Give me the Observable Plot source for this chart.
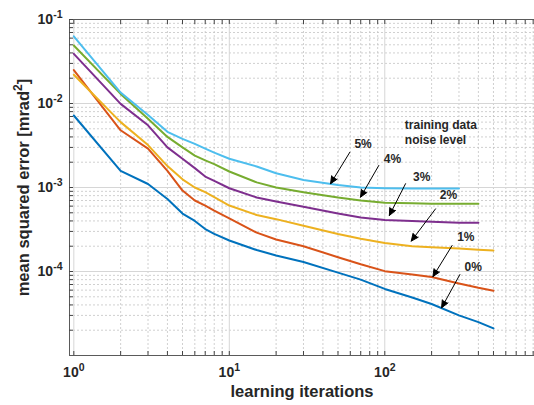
<!DOCTYPE html>
<html>
<head>
<meta charset="utf-8">
<script src="https://cdn.jsdelivr.net/npm/d3@7"></script>
<script src="https://cdn.jsdelivr.net/npm/@observablehq/plot@0.6"></script>
<style>
  html, body { margin: 0; padding: 0; background: #fff; }
  #chart { width: 534px; height: 405px; overflow: hidden; }
</style>
</head>
<body>
<div id="chart"></div>
<script>
// ---- data ----
const iterations = [1, 2, 3, 4, 5, 6, 7, 8, 10, 15, 20, 30, 50, 70, 100, 150, 200, 300, 400, 500];
const noiseLevels = ["0%", "1%", "2%", "3%", "4%", "5%"];
const seriesColors = ["#0072BD", "#D95319", "#EDB120", "#7E2F8E", "#77AC30", "#4DBEEE"];

const mse0 = [0.0072, 0.00158, 0.0011, 0.00073, 0.00049, 0.0004, 0.00032, 0.00028, 0.000234, 0.00018, 0.000155, 0.00013, 0.000097, 0.00008, 0.000062, 0.000049, 0.000041, 0.00003, 0.000025, 0.000021];
const mse1 = [0.025, 0.0048, 0.0029, 0.00158, 0.00092, 0.0007, 0.00061, 0.00053, 0.00043, 0.00029, 0.00024, 0.0002, 0.000148, 0.000122, 0.000101, 0.000092, 0.000086, 0.000072, 0.000064, 0.000059];
const mse2 = [0.022, 0.006, 0.0032, 0.0018, 0.00125, 0.001, 0.00088, 0.00077, 0.00061, 0.00047, 0.00042, 0.00035, 0.00028, 0.000246, 0.000218, 0.0002, 0.000195, 0.000188, 0.000182, 0.000178];
const mse3 = [0.039, 0.0099, 0.0055, 0.003, 0.0022, 0.0017, 0.00135, 0.0012, 0.00098, 0.00076, 0.00068, 0.00059, 0.00049, 0.00044, 0.00041, 0.0004, 0.00039, 0.00038, 0.00038, null];
const mse4 = [0.049, 0.013, 0.0066, 0.004, 0.003, 0.0024, 0.0021, 0.0019, 0.00155, 0.00115, 0.001, 0.00088, 0.00076, 0.0007, 0.00066, 0.00065, 0.00064, 0.00064, 0.00064, null];
const mse5 = [0.063, 0.0135, 0.0073, 0.0046, 0.0038, 0.0033, 0.0029, 0.0026, 0.0022, 0.00178, 0.00148, 0.00123, 0.00107, 0.001, 0.00098, 0.00097, 0.00097, 0.00097, null, null];

// annotation labels and arrows (data coordinates), order = noiseLevels
const labelX = [326, 292, 226, 152, 98.6, 63.8];
const labelY = [1.13e-4, 2.53e-4, 8.07e-4, 1.33e-3, 2.17e-3, 3.27e-3];
const arrowX1 = [304, 271, 212, 136, 91.5, 59.6];
const arrowY1 = [9.2e-5, 2.04e-4, 5.57e-4, 1.11e-3, 1.83e-3, 2.63e-3];
const arrowX2 = [232, 204, 148, 107, 69.8, 44.8];
const arrowY2 = [3.7e-5, 8.7e-5, 2.3e-4, 4.64e-4, 7.67e-4, 1.11e-3];
const noteLines = ["training data", "noise level"];
const noteX = [134.5, 134.5];
const noteY = [5.57e-3, 3.63e-3];

// tick values
const xMajor = [1, 10, 100];
const yMajor = [1e-4, 1e-3, 1e-2, 1e-1];
const xMinor = [2,3,4,5,6,7,8,9,20,30,40,50,60,70,80,90,200,300,400,500,600,700,800,900];
const yMinor = [2e-5,3e-5,4e-5,5e-5,6e-5,7e-5,8e-5,9e-5,2e-4,3e-4,4e-4,5e-4,6e-4,7e-4,8e-4,9e-4,2e-3,3e-3,4e-3,5e-3,6e-3,7e-3,8e-3,9e-3,2e-2,3e-2,4e-2,5e-2,6e-2,7e-2,8e-2,9e-2];

const xTitle = "learning iterations";
const yTitle = "mean squared error [mrad\u00B2]";

// ---- build tables ----
const allSeries = [mse0, mse1, mse2, mse3, mse4, mse5];
const rows = [];
allSeries.forEach((vals, s) => {
  vals.forEach((v, i) => { if (v != null) rows.push({iter: iterations[i], mse: v, level: noiseLevels[s]}); });
});
const notes = noiseLevels.map((lab, i) => ({lab, lx: labelX[i], ly: labelY[i], x1: arrowX1[i], y1: arrowY1[i], x2: arrowX2[i], y2: arrowY2[i]}));
const noteRows = noteLines.map((t, i) => ({t, x: noteX[i], y: noteY[i]}));

const supMap = {"-": "\u207B", "0": "\u2070", "1": "\u00B9", "2": "\u00B2", "3": "\u00B3", "4": "\u2074", "5": "\u2075"};
const unSup = Object.fromEntries(Object.entries(supMap).map(([k, v]) => [v, k]));
const pow10 = d => "10" + String(Math.round(Math.log10(d))).split("").map(c => supMap[c]).join("");

const font = "'Liberation Sans', Arial, Helvetica, sans-serif";
const axisColor = "#262626";

const svg = Plot.plot({
  width: 534,
  height: 405,
  marginLeft: 69,
  marginRight: 0,
  marginTop: 19,
  marginBottom: 50,
  style: {fontFamily: font, background: "#fff", color: axisColor},
  x: {type: "log", domain: [0.938, 918], label: null},
  y: {type: "log", domain: [1e-5, 0.1], label: null},
  color: {domain: noiseLevels, range: seriesColors},
  marks: [
    Plot.gridX({ticks: xMinor, stroke: "#c4c4c4", strokeOpacity: 1, strokeDasharray: "2,2", strokeWidth: 0.8}),
    Plot.gridY({ticks: yMinor, stroke: "#c4c4c4", strokeOpacity: 1, strokeDasharray: "2,2", strokeWidth: 0.8}),
    Plot.gridX({ticks: xMajor, stroke: "#d6d6d6", strokeOpacity: 1, strokeWidth: 1}),
    Plot.gridY({ticks: yMajor, stroke: "#d6d6d6", strokeOpacity: 1, strokeWidth: 1}),
    Plot.frame({stroke: "#5a5a5a", strokeWidth: 1}),
    // inward tick marks
    Plot.axisX({anchor: "bottom", ticks: xMajor.concat(xMinor), tickSize: -4, tickFormat: () => "", stroke: "#444"}),
    Plot.axisX({anchor: "top", ticks: xMajor.concat(xMinor), tickSize: -4, tickFormat: () => "", stroke: "#444"}),
    Plot.axisY({anchor: "left", ticks: yMajor.concat(yMinor), tickSize: -4, tickFormat: () => "", stroke: "#444"}),
    // tick labels
    Plot.text(xMajor, {x: d => d, frameAnchor: "bottom", dy: 21, text: pow10, textAnchor: "middle", fontSize: 14, fontWeight: "bold", fill: axisColor, ariaDescription: "pow-label"}),
    Plot.text(yMajor, {y: d => d, frameAnchor: "left", dx: -7, text: pow10, textAnchor: "end", fontSize: 14, fontWeight: "bold", fill: axisColor, ariaDescription: "pow-label"}),
    // data
    Plot.line(rows, {x: "iter", y: "mse", z: "level", stroke: "level", strokeWidth: 2}),
    // annotations
    Plot.arrow(notes, {x1: "x1", y1: "y1", x2: "x2", y2: "y2", stroke: "black", strokeWidth: 1, headLength: 12, headAngle: 48, ariaDescription: "note-arrow"}),
    Plot.text(notes, {x: "lx", y: "ly", text: "lab", textAnchor: "start", fontSize: 12, fontWeight: "bold", fill: axisColor}),
    Plot.text(noteRows, {x: "x", y: "y", text: "t", textAnchor: "start", fontSize: 12, fontWeight: "bold", fill: axisColor}),
    // axis titles
    Plot.text([xTitle], {frameAnchor: "bottom", dy: 41, text: d => d, textAnchor: "middle", fontSize: 16.5, fontWeight: "bold", fill: axisColor}),
    Plot.text([yTitle], {frameAnchor: "left", dx: -46, rotate: -90, text: d => d, textAnchor: "middle", fontSize: 16.5, fontWeight: "bold", fill: axisColor, ariaDescription: "pow-label"})
  ]
});

// fill the arrow heads (solid triangles like the reference)
svg.querySelectorAll('g[aria-description="note-arrow"] path, g[aria-label="arrow"] path').forEach(p => {
  p.style.fill = "black";
  p.setAttribute("stroke-linejoin", "miter");
});

// render superscript characters as raised, smaller tspans (text stays real text)
const NS = "http://www.w3.org/2000/svg";
svg.querySelectorAll('g[aria-description="pow-label"] text').forEach(t => {
  const s = t.textContent;
  if (s.startsWith("10")) {
    const sup = Array.from(s.slice(2)).map(ch => unSup[ch] ?? ch).join("");
    t.textContent = "";
    const a = document.createElementNS(NS, "tspan"); a.textContent = "10";
    const b = document.createElementNS(NS, "tspan"); b.textContent = sup;
    b.setAttribute("font-size", "10.5"); b.setAttribute("dy", "-6");
    t.appendChild(a); t.appendChild(b);
  } else if (s.includes("\u00B2")) {
    const [pre, post] = s.split("\u00B2");
    t.textContent = "";
    const a = document.createElementNS(NS, "tspan"); a.textContent = pre;
    const b = document.createElementNS(NS, "tspan"); b.textContent = "2";
    b.setAttribute("font-size", "12"); b.setAttribute("dy", "-7");
    const c = document.createElementNS(NS, "tspan"); c.textContent = post;
    c.setAttribute("dy", "7");
    t.appendChild(a); t.appendChild(b); t.appendChild(c);
  }
});

document.getElementById("chart").appendChild(svg);
</script>
</body>
</html>
